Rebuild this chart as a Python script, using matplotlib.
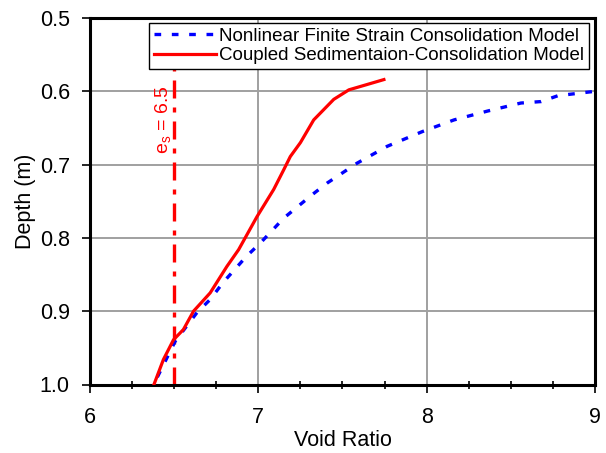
import matplotlib
matplotlib.use("Agg")
import matplotlib.pyplot as plt
from matplotlib.ticker import MultipleLocator

plt.rcParams['font.family'] = ['Liberation Sans', 'DejaVu Sans']

# Nonlinear Finite Strain Consolidation Model (blue dashed)
nfs_e = [6.40, 6.506, 6.635, 6.714, 6.79, 6.93, 7.012, 7.151, 7.32, 7.41, 7.587,
         7.766, 7.974, 8.163, 8.361, 8.56, 8.68, 8.78, 9.0]
nfs_d = [0.99, 0.941, 0.902, 0.884, 0.861, 0.825, 0.807, 0.773, 0.741, 0.725, 0.698,
         0.675, 0.655, 0.639, 0.627, 0.616, 0.614, 0.606, 0.600]

# Coupled Sedimentation-Consolidation Model (red solid)
csc_e = [6.38, 6.436, 6.496, 6.555, 6.615, 6.714, 6.813, 6.883, 6.992, 7.091, 7.151,
         7.19, 7.25, 7.329, 7.448, 7.538, 7.746]
csc_d = [1.0, 0.966, 0.939, 0.925, 0.900, 0.875, 0.839, 0.816, 0.771, 0.734, 0.707,
         0.689, 0.670, 0.639, 0.611, 0.598, 0.584]

es_value = 6.5
xlim = (6, 9)
ylim = (1.0, 0.5)

W, H = 606, 453
fig = plt.figure(figsize=(W / 100, H / 100), dpi=100)
ax = fig.add_axes([90 / W, 1 - 384.5 / H, (595 - 90) / W, (384.5 - 18) / H])

ax.grid(True, color='#a0a0a0', linewidth=1.4, which='major')
ax.set_axisbelow(True)

ax.plot(nfs_e, nfs_d, color='#0000ff', linewidth=2.4, linestyle=(0, (2.0, 3.2)),
        label='Nonlinear Finite Strain Consolidation Model', zorder=3)
ax.plot(csc_e, csc_d, color='#ff0000', linewidth=2.3,
        label='Coupled Sedimentaion-Consolidation Model', zorder=3)
ax.axvline(es_value, color='#ff0000', linewidth=2.4,
           linestyle=(0, (5.4, 2.7, 1.5, 2.7)), zorder=2)
ax.text(6.44, 0.639, r'e$_\mathregular{s}$ = 6.5', color='#ff0000', rotation=90,
        fontsize=14, ha='center', va='center')

ax.set_xlim(*xlim)
ax.set_ylim(*ylim)
ax.xaxis.set_major_locator(MultipleLocator(1))
ax.xaxis.set_minor_locator(MultipleLocator(0.25))
ax.yaxis.set_major_locator(MultipleLocator(0.1))
ax.set_yticklabels([f'{v:.1f}' for v in ax.get_yticks()])
ax.tick_params(axis='both', which='major', direction='out', length=6, width=1.2,
               labelsize=15.5)
ax.tick_params(axis='y', which='major', pad=8.5)
ax.tick_params(axis='x', which='major', pad=10)
ax.tick_params(axis='x', which='minor', direction='inout', length=6, width=1.2)

for s in ax.spines.values():
    s.set_linewidth(2.2)
    s.set_color('black')

ax.set_xlabel('Void Ratio', fontsize=15.5, labelpad=2)
ax.set_ylabel('Depth (m)', fontsize=15.5, labelpad=3)

leg = ax.legend(loc='upper right', bbox_to_anchor=(589 / W, 1 - 23 / H),
                bbox_transform=fig.transFigure, fontsize=13.5, frameon=True,
                fancybox=False, edgecolor='black', framealpha=1, borderpad=0.25,
                labelspacing=0.12, handlelength=3.3, handletextpad=0.2,
                borderaxespad=0)
leg.get_frame().set_linewidth(1.0)

fig.savefig('out.png', dpi=100)
